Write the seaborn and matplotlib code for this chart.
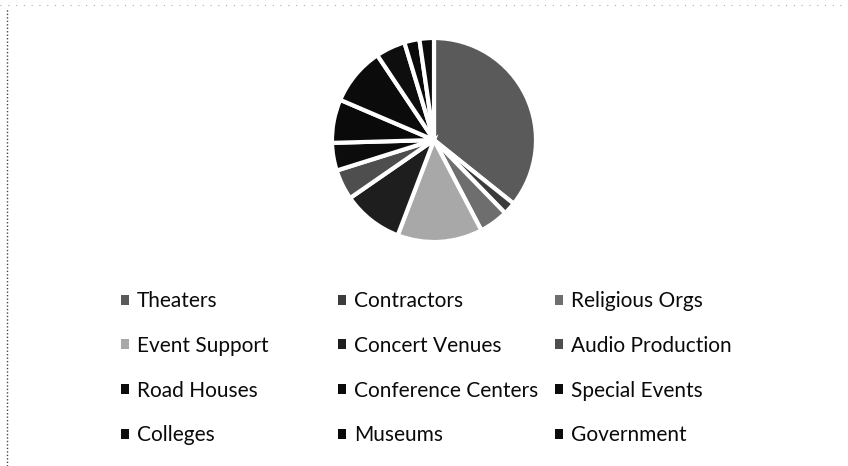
import matplotlib
matplotlib.use("Agg")
import matplotlib.pyplot as plt
from matplotlib.patches import Patch
from matplotlib.lines import Line2D
import seaborn as sns

categories = ["Theaters", "Contractors", "Religious Orgs", "Event Support",
              "Concert Venues", "Audio Production", "Road Houses",
              "Conference Centers", "Special Events", "Colleges",
              "Museums", "Government"]
shares = [35.8, 2.0, 4.6, 13.5, 9.6, 4.8, 4.4, 6.9, 9.2, 4.7, 2.4, 2.3]
colors = ["#5a5a5a", "#3c3c3c", "#6e6e6e", "#a8a8a8", "#1e1e1e", "#4e4e4e",
          "#0c0c0c", "#0a0a0a", "#0b0b0b", "#0e0e0e", "#0a0a0a", "#0c0c0c"]

sns.set_theme(style="white")
plt.rcParams["font.family"] = ["Lato", "DejaVu Sans"]

W, H = 848, 466
fig = plt.figure(figsize=(W / 100, H / 100), dpi=100)
fig.patch.set_facecolor("white")

cx, cy, r = 434, 140, 102
ax = fig.add_axes([(cx - r) / W, (H - cy - r) / H, 2 * r / W, 2 * r / H])
ax.pie(shares, colors=colors, startangle=90, counterclock=False,
       wedgeprops=dict(edgecolor="white", linewidth=3.0))
ax.set_xlim(-1, 1)
ax.set_ylim(-1, 1)
ax.set_aspect("equal")
ax.axis("off")

handles = [Patch(facecolor=c, edgecolor="none") for c in colors]
col_x = [121, 338, 555]
top_y = 291
for j in range(3):
    hs = handles[j::3]
    ls = categories[j::3]
    leg = fig.legend(hs, ls, loc="upper left",
                     bbox_to_anchor=(col_x[j] / W, 1 - top_y / H),
                     frameon=False, fontsize=15, ncol=1,
                     handlelength=0.36, handleheight=0.36,
                     handletextpad=0.4, labelspacing=1.19,
                     borderpad=0, borderaxespad=0)
    for t in leg.get_texts():
        t.set_color("#0a0a0a")

# scan border artifacts
fig.add_artist(Line2D([7 / W, 7 / W], [0, 1 - 8 / H], transform=fig.transFigure,
                      color="#444444", lw=1.0, ls=(0, (1, 1.5))))
fig.add_artist(Line2D([0, 1], [1 - 5 / H, 1 - 5 / H], transform=fig.transFigure,
                      color="#aaaaaa", lw=0.8, ls=(0, (1, 6))))

fig.savefig("out.png", dpi=100, facecolor="white")
